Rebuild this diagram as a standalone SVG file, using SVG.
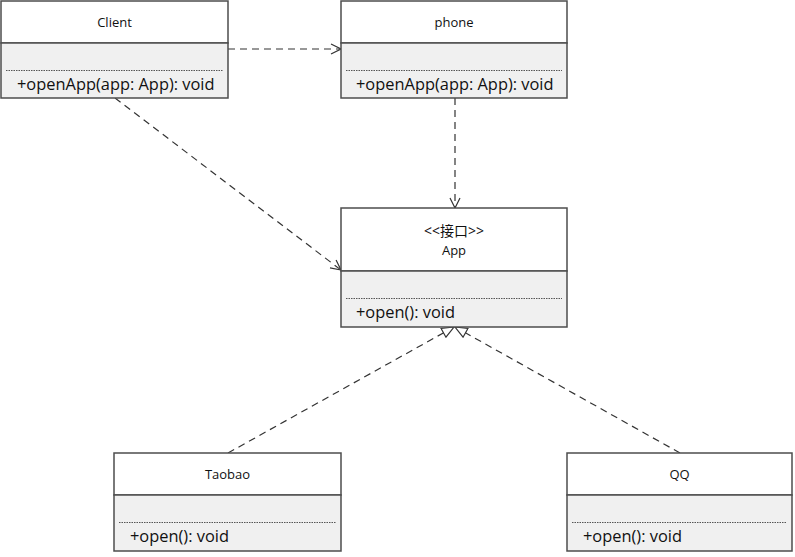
<svg xmlns="http://www.w3.org/2000/svg" width="795" height="557" viewBox="0 0 795 557">
<style>
.box{fill:#ffffff;stroke:#4d4d4d;stroke-width:1.5}
.comp{fill:#f0f0f0;stroke:#4d4d4d;stroke-width:1.5}
.dot{stroke:#555;stroke-width:1;stroke-dasharray:1.5 1}
.title{font-family:"Open Sans","Liberation Sans",sans-serif;font-size:13px;fill:#111;text-anchor:middle}
.meth{font-family:"Open Sans","Liberation Sans",sans-serif;font-size:16.4px;fill:#111}
.conn{fill:none;stroke:#333;stroke-width:1.2;stroke-dasharray:7 5}
</style>
<defs>
<marker id="open" viewBox="0 0 12 12" refX="11" refY="6" markerWidth="12" markerHeight="12" markerUnits="userSpaceOnUse" orient="auto">
<path d="M1,1 L11,6 L1,11" fill="none" stroke="#333" stroke-width="1.2"/>
</marker>
<marker id="tri" viewBox="0 0 14 14" refX="13" refY="7" markerWidth="14" markerHeight="14" markerUnits="userSpaceOnUse" orient="auto">
<path d="M1,2 L13,7 L1,12 Z" fill="#fff" stroke="#333" stroke-width="1.2"/>
</marker>
</defs>
<g id="connectors">
<path class="conn" d="M228,49 L341,49" marker-end="url(#open)"/>
<path class="conn" d="M455,98 L455,208" marker-end="url(#open)"/>
<path class="conn" d="M115,98 L341,270" marker-end="url(#open)"/>
<path class="conn" d="M228,453 L454,327" marker-end="url(#tri)"/>
<path class="conn" d="M680,453 L455,327" marker-end="url(#tri)"/>
</g>
<g id="Client">
<rect class="box" x="1" y="1" width="227" height="42"/>
<rect class="comp" x="1" y="43" width="227" height="55"/>
<line class="dot" x1="6" y1="70.5" x2="223" y2="70.5"/>
<text class="title" x="114.5" y="27">Client</text>
<text class="meth" x="17" y="90">+openApp(app: App): void</text>
</g>
<g id="phone">
<rect class="box" x="341" y="1" width="226" height="42"/>
<rect class="comp" x="341" y="43" width="226" height="55"/>
<line class="dot" x1="346" y1="70.5" x2="562" y2="70.5"/>
<text class="title" x="454" y="27">phone</text>
<text class="meth" x="356" y="90">+openApp(app: App): void</text>
</g>
<g id="App">
<rect class="box" x="341" y="208" width="226" height="63"/>
<rect class="comp" x="341" y="271" width="226" height="56"/>
<line class="dot" x1="346" y1="298.5" x2="562" y2="298.5"/>
<text class="title" x="454" y="236" style="font-family:'Open Sans','Noto Sans CJK SC',sans-serif;font-size:14px">&lt;&lt;接口&gt;&gt;</text>
<text class="title" x="454" y="255">App</text>
<text class="meth" x="356" y="318">+open(): void</text>
</g>
<g id="Taobao">
<rect class="box" x="114" y="453" width="227" height="42"/>
<rect class="comp" x="114" y="495" width="227" height="56"/>
<line class="dot" x1="119" y1="522.5" x2="336" y2="522.5"/>
<text class="title" x="227.5" y="479">Taobao</text>
<text class="meth" x="130" y="542">+open(): void</text>
</g>
<g id="QQ">
<rect class="box" x="567" y="453" width="225" height="42"/>
<rect class="comp" x="567" y="495" width="225" height="56"/>
<line class="dot" x1="572" y1="522.5" x2="787" y2="522.5"/>
<text class="title" x="679.5" y="479">QQ</text>
<text class="meth" x="583" y="542">+open(): void</text>
</g>
</svg>
